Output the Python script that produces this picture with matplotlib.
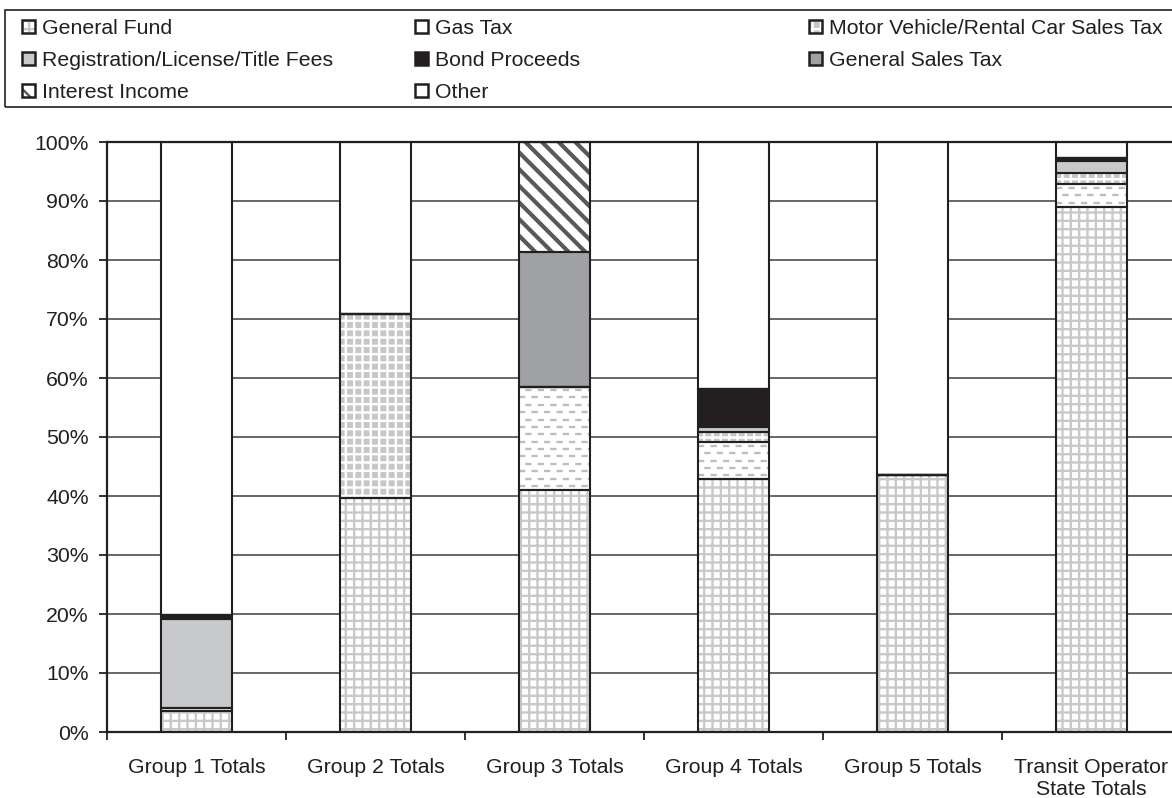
import matplotlib
matplotlib.use('Agg')
import matplotlib.pyplot as plt
import numpy as np
from matplotlib.patches import Patch, Rectangle
from matplotlib.legend_handler import HandlerTuple

plt.rcParams['font.family'] = ['Liberation Sans', 'DejaVu Sans']
plt.rcParams['hatch.linewidth'] = 1.7
plt.rcParams['lines.scale_dashes'] = False

ink = '#231f20'

groups = ['Group 1 Totals', 'Group 2 Totals', 'Group 3 Totals',
          'Group 4 Totals', 'Group 5 Totals', 'Transit Operator\nState Totals']

# share of revenue by source, percent
general_fund  = [3.5, 39.6, 41.0, 42.8, 43.5, 89.0]
gas_tax       = [0.6, 0.0, 17.4, 6.3, 0.0, 3.9]
motor_vehicle = [0.0, 31.3, 0.0, 1.8, 0.0, 1.9]
registration  = [15.0, 0.0, 0.0, 0.8, 0.0, 2.0]
bond_proceeds = [0.8, 0.0, 0.0, 6.5, 0.0, 0.5]
general_sales = [0.0, 0.0, 23.0, 0.0, 0.0, 0.0]
interest      = [0.0, 0.0, 18.6, 0.0, 0.0, 0.0]
other         = [80.1, 29.1, 0.0, 41.8, 56.5, 2.7]

# name, values, face, hatch colour, hatch, hatch width
series = [
    ('General Fund', general_fund, 'white', '#c8c9cb', '++', 1.7),
    ('Gas Tax', gas_tax, 'white', 'white', None, 1.7),
    ('Motor Vehicle/Rental Car Sales Tax', motor_vehicle, '#c6c7c9', 'white', '++', 1.7),
    ('Registration/License/Title Fees', registration, '#c8c9cb', '#c8c9cb', None, 1.7),
    ('Bond Proceeds', bond_proceeds, ink, ink, None, 1.7),
    ('General Sales Tax', general_sales, '#a0a1a4', '#a0a1a4', None, 1.7),
    ('Interest Income', interest, 'white', '#58595b', '\\\\', 3.0),
    ('Other', other, 'white', 'white', None, 1.7),
]

fig = plt.figure(figsize=(11.72, 7.98), dpi=100)
ax = fig.add_axes([107 / 1172, 66 / 798, 1074 / 1172, 590 / 798])

x = np.arange(len(groups))
width = 0.4
bottom = np.zeros(len(groups))
handles = {}
for name, vals, face, hcol, hatch, hlw in series:
    vals = np.array(vals)
    bars = ax.bar(x, vals, width, bottom=bottom, color=face, edgecolor=hcol,
                  hatch=hatch, linewidth=0, zorder=2)
    for p in bars.patches:
        if hasattr(p, 'set_hatch_linewidth'):
            p.set_hatch_linewidth(hlw)
    ax.bar(x, vals, width, bottom=bottom, fill=False, edgecolor=ink,
           linewidth=1.5, zorder=4)
    if name == 'Gas Tax':
        # staggered grey dashes inside the gas tax segments
        for patch, b, v in zip(bars.patches, bottom, vals):
            if v <= 0:
                continue
            x0 = patch.get_x()
            rows = np.arange(b + 0.7, b + v, 1.25)
            for i, yr in enumerate(rows):
                ln, = ax.plot([x0, x0 + width], [yr, yr], color='#bcbdbf', lw=1.7,
                              ls=((0 if i % 2 == 0 else 4.5), (4.5, 4.5)), zorder=3)
                ln.set_clip_path(patch)
    hp = Patch(facecolor=face, edgecolor=hcol, hatch=hatch, linewidth=0)
    if hasattr(hp, 'set_hatch_linewidth'):
        hp.set_hatch_linewidth(hlw)
    handles[name] = (hp, Patch(fill=False, edgecolor=ink, linewidth=1.8))
    bottom += vals

ax.set_xlim(-0.5, len(groups) - 0.5)
ax.set_ylim(0, 100)
ax.set_yticks(np.arange(0, 101, 10))
ax.set_yticklabels([f'{v}%' for v in range(0, 101, 10)])
ax.set_xticks(x)
ax.set_xticklabels(groups)
ax.set_xticks(np.arange(-0.5, len(groups)), minor=True)
ax.tick_params(axis='x', which='major', length=0, pad=19, labelsize=15.3, colors=ink)
ax.tick_params(axis='x', which='minor', length=6, width=1.3, color=ink, direction='out')
ax.tick_params(axis='y', length=6, width=1.3, color=ink, pad=7, labelsize=15.3,
               labelcolor=ink)
ax.yaxis.grid(True, color='#4d4d4f', linewidth=1.2)
ax.set_axisbelow(True)
for side in ['left', 'bottom', 'top', 'right']:
    ax.spines[side].set_color(ink)
    ax.spines[side].set_linewidth(1.6)

# legend: framed box with three columns
fig.patches.append(Rectangle((5 / 1172, 691 / 798), 1.2, 97 / 798,
                             transform=fig.transFigure, fill=False,
                             edgecolor=ink, linewidth=1.2))
columns = [
    (22, ['General Fund', 'Registration/License/Title Fees', 'Interest Income']),
    (415, ['Gas Tax', 'Bond Proceeds', 'Other']),
    (809, ['Motor Vehicle/Rental Car Sales Tax', 'General Sales Tax']),
]
for xpx, names in columns:
    fig.legend([handles[n] for n in names], names, loc='upper left',
               bbox_to_anchor=(xpx / 1172, 1 - 19 / 798), frameon=False,
               borderpad=0, borderaxespad=0, handlelength=0.62, handleheight=0.62,
               handletextpad=0.3, labelspacing=0.61, fontsize=15.3,
               labelcolor=ink, handler_map={tuple: HandlerTuple(ndivide=1, pad=0)})

fig.savefig('out.png', dpi=100)
